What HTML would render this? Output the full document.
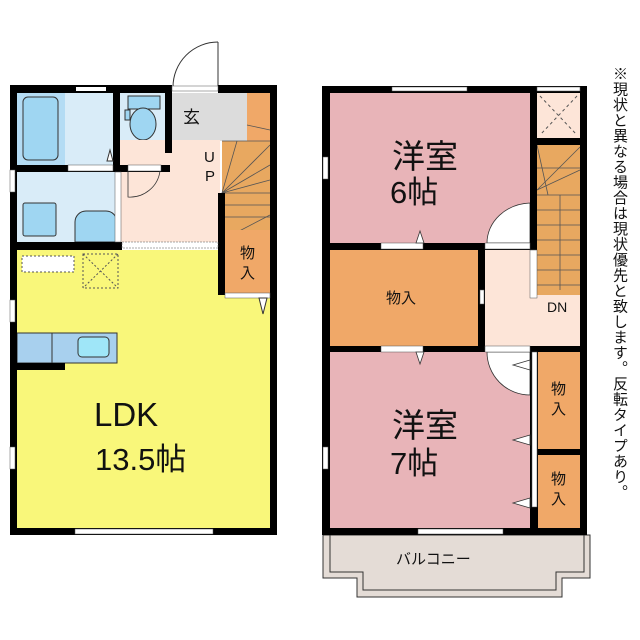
<!DOCTYPE html>
<html><head><meta charset="utf-8"><style>
html,body{margin:0;padding:0;background:#fff;width:640px;height:640px;overflow:hidden}
svg{position:absolute;left:0;top:0}
.t{font-family:"Liberation Sans","Noto Sans CJK JP",sans-serif;fill:#111}
#note{position:absolute;left:609px;top:66px;writing-mode:vertical-rl;font-family:"Liberation Sans","Noto Sans CJK JP",sans-serif;font-size:15px;line-height:20px;color:#111;letter-spacing:0.5px}
</style></head><body>
<svg width="640" height="640" viewBox="0 0 640 640">
<!-- LEFT BUILDING -->
<path d="M218 42 A45 45 0 0 0 173 87" fill="none" stroke="#333" stroke-width="1"/>
<line x1="218" y1="42" x2="218" y2="88" stroke="#333"/>
<rect x="17" y="93" width="96" height="72" fill="#d9ecf8"/>
<rect x="17" y="93" width="48" height="72" fill="#b4dcf4"/>
<rect x="23" y="97" width="35" height="63" rx="5" fill="#9fd6f2" stroke="#333" stroke-width="1"/>
<rect x="120" y="93" width="45" height="72" fill="#d9ecf8"/>
<rect x="128" y="96" width="32" height="13" fill="#9fd6f2" stroke="#333"/>
<ellipse cx="143" cy="124" rx="13" ry="16" fill="#9fd6f2" stroke="#333"/>
<rect x="125" y="110" width="5" height="10" fill="#9fd6f2" stroke="#333"/>
<rect x="172" y="93" width="75" height="48" fill="#dcdcdc"/>
<rect x="120" y="140" width="100" height="102" fill="#fde5d8"/>
<rect x="17" y="172" width="98" height="70" fill="#d9ecf8"/>
<rect x="23" y="203" width="33" height="33" rx="2" fill="#9fd6f2" stroke="#333"/>
<path d="M75 242 V222 a11 11 0 0 1 11 -11 h20 a11 11 0 0 1 11 11 V242 Z" fill="#9fd6f2" stroke="#333"/>
<rect x="247" y="93" width="23" height="48" fill="#f0a868"/>
<rect x="222" y="141" width="48" height="154" fill="#e8a860"/>
<g stroke="#555" stroke-width="0.8">
<line x1="222" y1="141" x2="270" y2="141"/><line x1="222" y1="193" x2="270" y2="193"/>
<line x1="222" y1="205" x2="270" y2="205"/><line x1="222" y1="217" x2="270" y2="217"/>
<line x1="222" y1="193" x2="237" y2="141"/><line x1="222" y1="193" x2="270" y2="145"/>
<line x1="222" y1="193" x2="270" y2="165"/><line x1="222" y1="193" x2="270" y2="180"/>
<line x1="247" y1="125" x2="270" y2="130"/><line x1="222" y1="240" x2="270" y2="215"/>
</g>
<rect x="225" y="230" width="45" height="65" fill="#f0a868"/>
<rect x="17" y="250" width="253" height="278" fill="#f9f77a"/>
<rect x="225" y="250" width="45" height="43" fill="#f0a868"/>
<rect x="22" y="256" width="52" height="16" fill="#fff" stroke="#555" stroke-dasharray="2,2"/>
<rect x="83" y="254" width="35" height="34" fill="none" stroke="#555" stroke-dasharray="2,2"/>
<path d="M83 254 L118 288 M118 254 L83 288" stroke="#555" stroke-dasharray="2,2"/>
<rect x="17" y="333" width="100" height="30" fill="#a8d0ee" stroke="#333"/>
<line x1="52" y1="333" x2="52" y2="363" stroke="#333"/>
<rect x="78" y="337" width="31" height="20" rx="4" fill="#9fe6f8" stroke="#333"/>
<g fill="#000">
<rect x="10" y="85" width="162" height="8"/>
<rect x="218" y="85" width="59" height="8"/>
<rect x="10" y="85" width="7" height="450"/>
<rect x="270" y="85" width="7" height="450"/>
<rect x="10" y="528" width="267" height="7"/>
<rect x="113" y="93" width="7" height="72"/>
<rect x="165" y="93" width="7" height="60"/>
<rect x="10" y="165" width="160" height="7"/>
<rect x="10" y="242" width="112" height="8"/>
<rect x="218" y="193" width="7" height="102"/>
<rect x="10" y="363" width="55" height="7"/>
</g>
<rect x="172" y="86" width="46" height="5" fill="#fff" stroke="#555" stroke-width="0.5"/>
<rect x="76" y="87" width="30" height="4" fill="#fff"/>
<rect x="68" y="165" width="45" height="6" fill="#fff" stroke="#555" stroke-width="0.5"/>
<rect x="128" y="165" width="33" height="6" fill="#fff" stroke="#555" stroke-width="0.5"/>
<path d="M128 171 V197 A30 30 0 0 0 160 171" fill="none" stroke="#333" stroke-width="0.8"/>
<rect x="115" y="172" width="6" height="70" fill="#fff" stroke="#555" stroke-width="0.5"/>
<rect x="122" y="242" width="96" height="6" fill="#fff" stroke="#555" stroke-width="0.5" stroke-dasharray="2,1"/>
<path d="M107 161 L110 150 L113 161 Z" fill="#fff" stroke="#333"/>
<rect x="225" y="293" width="45" height="5" fill="#fff" stroke="#555" stroke-width="0.5"/>
<path d="M259 298 L267 298 L263 314 Z" fill="#fff" stroke="#333"/>
<rect x="10" y="300" width="5" height="22" fill="#fff" stroke="#555" stroke-width="0.5"/>
<rect x="10" y="447" width="5" height="22" fill="#fff" stroke="#555" stroke-width="0.5"/>
<rect x="10" y="170" width="5" height="22" fill="#fff" stroke="#555" stroke-width="0.5"/>
<rect x="75" y="529" width="138" height="5" fill="#fff" stroke="#555" stroke-width="0.5"/>
<text class="t" x="183" y="123" font-size="17">玄</text>
<text class="t" x="204" y="162" font-size="15">U</text>
<text class="t" x="205" y="181" font-size="15">P</text>
<text class="t" x="240" y="258" font-size="15">物</text>
<text class="t" x="240" y="278" font-size="15">入</text>
<text class="t" x="94" y="426" font-size="33">LDK</text>
<text class="t" x="95" y="470" font-size="31">13.5帖</text>

<!-- RIGHT BUILDING -->
<rect x="330" y="93" width="200" height="150" fill="#e8b4b8"/>
<rect x="537" y="93" width="43" height="45" fill="#fde5d8"/>
<path d="M540 96 L577 135 M577 96 L540 135" stroke="#555" stroke-dasharray="3,3"/>
<rect x="485" y="250" width="95" height="96" fill="#fde5d8"/>
<rect x="537" y="145" width="43" height="150" fill="#e8a860"/>
<g stroke="#555" stroke-width="0.8">
<line x1="537" y1="195" x2="580" y2="195"/><line x1="537" y1="210" x2="580" y2="210"/>
<line x1="537" y1="225" x2="580" y2="225"/><line x1="537" y1="240" x2="580" y2="240"/>
<line x1="537" y1="255" x2="580" y2="255"/><line x1="537" y1="270" x2="580" y2="270"/>
<line x1="537" y1="285" x2="580" y2="285"/><line x1="560" y1="195" x2="560" y2="290"/>
<line x1="537" y1="190" x2="580" y2="147"/><line x1="537" y1="190" x2="580" y2="170"/>
<line x1="537" y1="168" x2="580" y2="168"/><line x1="537" y1="145" x2="548" y2="195"/>
</g>
<path d="M530 243 V203 A45 40 0 0 0 487 243 Z" fill="#fff" stroke="#333" stroke-width="0.8"/>
<rect x="330" y="250" width="148" height="96" fill="#f0a868"/>
<rect x="330" y="352" width="200" height="176" fill="#e8b4b8"/>
<rect x="538" y="352" width="42" height="97" fill="#f0a868"/>
<rect x="538" y="455" width="42" height="73" fill="#f0a868"/>
<path d="M487 352 A43 43 0 0 0 530 395 V352 Z" fill="#fff" stroke="#333" stroke-width="0.8"/>
<path d="M323 535 H590 V578 H562 V597 H357 V578 H323 Z" fill="#e4dcd6" stroke="#333"/>
<path d="M330 535 V572 H363 V590 H556 V572 H584 V535" fill="none" stroke="#333"/>
<g fill="#000">
<rect x="322" y="86" width="265" height="7"/>
<rect x="322" y="86" width="8" height="449"/>
<rect x="580" y="86" width="7" height="449"/>
<rect x="322" y="528" width="265" height="7"/>
<rect x="530" y="86" width="7" height="160"/>
<rect x="530" y="138" width="57" height="7"/>
<rect x="322" y="243" width="215" height="7"/>
<rect x="478" y="243" width="7" height="109"/>
<rect x="322" y="346" width="265" height="6"/>
<rect x="530" y="346" width="8" height="182"/>
<rect x="530" y="449" width="57" height="6"/>
</g>
<rect x="392" y="87" width="75" height="4" fill="#fff" stroke="#555" stroke-width="0.5"/>
<rect x="537" y="87" width="43" height="4" fill="#fff" stroke="#555" stroke-width="0.5"/>
<rect x="381" y="243" width="42" height="6" fill="#fff" stroke="#555" stroke-width="0.5"/>
<rect x="485" y="243" width="45" height="6" fill="#fff" stroke="#555" stroke-width="0.5"/>
<rect x="381" y="346" width="42" height="6" fill="#fff" stroke="#555" stroke-width="0.5"/>
<rect x="485" y="346" width="45" height="6" fill="#fff" stroke="#555" stroke-width="0.5"/>
<rect x="530" y="250" width="7" height="48" fill="#fff" stroke="#555" stroke-width="0.5"/>
<rect x="480" y="290" width="4" height="14" fill="#fff" stroke="#555" stroke-width="0.5"/>
<rect x="532" y="352" width="5" height="155" fill="#fff" stroke="#555" stroke-width="0.5"/>
<rect x="323" y="157" width="5" height="22" fill="#fff" stroke="#555" stroke-width="0.5"/>
<rect x="323" y="447" width="5" height="22" fill="#fff" stroke="#555" stroke-width="0.5"/>
<rect x="418" y="529" width="85" height="5" fill="#fff" stroke="#555" stroke-width="0.5"/>
<g fill="#fff" stroke="#333" stroke-width="0.8">
<path d="M416 243 L420 231 L424 243 Z"/>
<path d="M416 352 L420 364 L424 352 Z"/>
<path d="M530 360 L513 365 L530 370 Z"/>
<path d="M530 435 L513 440 L530 445 Z"/>
<path d="M530 498 L513 503 L530 508 Z"/>
</g>
<text class="t" x="392" y="168" font-size="33">洋室</text>
<text class="t" x="390" y="203" font-size="31">6帖</text>
<text class="t" x="386" y="303" font-size="15">物入</text>
<text class="t" x="547" y="312" font-size="14">DN</text>
<text class="t" x="392" y="437" font-size="33">洋室</text>
<text class="t" x="390" y="474" font-size="31">7帖</text>
<text class="t" x="551" y="394" font-size="15">物</text>
<text class="t" x="551" y="414" font-size="15">入</text>
<text class="t" x="551" y="484" font-size="15">物</text>
<text class="t" x="551" y="504" font-size="15">入</text>
<text class="t" x="396" y="564" font-size="15">バルコニー</text>
</svg>
<div id="note">※現状と異なる場合は現状優先と致します。反転タイプあり。</div>
</body></html>
